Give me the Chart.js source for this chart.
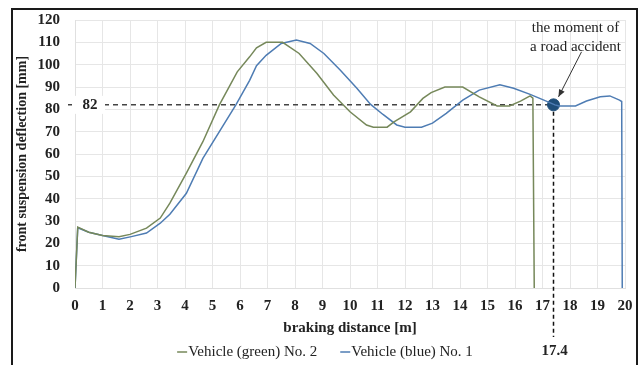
<!DOCTYPE html>
<html>
<head>
<meta charset="utf-8">
<script src="https://cdn.jsdelivr.net/npm/chart.js@4/dist/chart.umd.min.js"></script>
<style>
  body { margin: 0; background: #fff; }
  canvas { display: block; }
</style>
</head>
<body>
<canvas id="myChart" width="639" height="365"></canvas>
<script>
// braking distance [m] / front suspension deflection [mm]
var greenX = [0, 0.1, 0.5, 1.0, 1.6, 2.0, 2.6, 3.1, 3.45, 4.05, 4.65, 5.25, 5.9, 6.35, 6.6, 6.95, 7.55, 8.15, 8.8, 9.4, 10.0, 10.6, 10.85, 11.35, 11.6, 12.2, 12.65, 12.95, 13.45, 14.1, 14.7, 15.35, 15.8, 16.2, 16.55, 16.65, 16.7]
var greenY = [0, 27.3, 25, 23.5, 23, 24, 26.8, 31.3, 38, 51.4, 65.5, 82, 96.8, 103.5, 107.5, 110, 110, 105, 96, 86.4, 78.9, 73, 72, 72, 74.4, 78.9, 84.9, 87.5, 90, 90, 85.6, 81.5, 81.5, 83.7, 86, 85, 0]

var blueX = [0, 0.1, 0.5, 1.0, 1.6, 2.05, 2.6, 3.1, 3.45, 4.05, 4.65, 5.85, 6.35, 6.6, 6.95, 7.5, 8.05, 8.55, 9.05, 9.65, 10.25, 10.75, 11.2, 11.7, 12.0, 12.6, 13.0, 13.5, 14.1, 14.7, 15.45, 15.95, 16.55, 17.05, 17.45, 17.6, 18.2, 18.6, 19.1, 19.45, 19.8, 19.88, 19.9]
var blueY = [0, 27, 25, 23.5, 21.8, 23, 24.6, 29, 33, 42.4, 58, 82, 93, 99.5, 104.2, 109.5, 111, 109.5, 105, 97.5, 89.4, 82.2, 77.7, 73, 72, 72, 73.8, 78.2, 84.1, 88.6, 91, 89.4, 86.7, 84.1, 82, 81.5, 81.5, 83.7, 85.6, 86, 84.1, 83.5, 0]

var seriesLabels = ['Vehicle (green) No. 2', 'Vehicle (blue) No. 1']
var accidentX = [17.4]   // the moment of a road accident
var accidentY = [82]

var xTicks = { min: 0, max: 20, step: 1 }
var yTicks = { min: 0, max: 120, step: 10 }

var GREEN = '#76885a'
var BLUE = '#4e7cb3'
var SERIF = "'Liberation Serif', 'Times New Roman', serif"

function pairs(xs, ys) {
  return xs.map(function (x, i) { return { x: x, y: ys[i] } })
}

// dashed guide lines drawn under the curves
var guides = {
  id: 'guides',
  beforeDraw: function (chart) {
    var ctx = chart.ctx
    ctx.save()
    ctx.fillStyle = '#fff'
    ctx.fillRect(0, 0, chart.width, chart.height)
    ctx.restore()
  },
  beforeDatasetsDraw: function (chart) {
    var ctx = chart.ctx, x = chart.scales.x, y = chart.scales.y
    var px = x.getPixelForValue(accidentX[0]), py = y.getPixelForValue(accidentY[0])
    ctx.save()
    ctx.strokeStyle = '#444'
    ctx.lineWidth = 1.5
    ctx.setLineDash([5, 4])
    ctx.beginPath()
    ctx.moveTo(x.left - 7, py)
    ctx.lineTo(px, py)
    ctx.stroke()
    ctx.strokeStyle = '#111'
    ctx.setLineDash([4, 3])
    ctx.beginPath()
    ctx.moveTo(px, py)
    ctx.lineTo(px, x.bottom - 28)
    ctx.stroke()
    ctx.restore()
  },
  afterDraw: function (chart) {
    var ctx = chart.ctx, x = chart.scales.x, y = chart.scales.y
    var px = x.getPixelForValue(accidentX[0]), py = y.getPixelForValue(accidentY[0])
    ctx.save()
    // "82" label on a white patch
    ctx.fillStyle = '#fff'
    ctx.fillRect(x.left - 3, py - 9, 33, 18)
    ctx.fillStyle = '#222'
    ctx.font = 'bold 15px ' + SERIF
    ctx.textAlign = 'center'
    ctx.textBaseline = 'middle'
    ctx.fillText(String(accidentY[0]), x.left + 15, py)
    ctx.fillText(String(accidentX[0]), px + 1, 351)

    // note + arrow
    ctx.font = '15px ' + SERIF
    ctx.fillText('the moment of', px + 22, py - 77)
    ctx.fillText('a road accident', px + 22, py - 58)
    var sx = px + 28, sy = py - 53, ex = px + 5, ey = py - 8
    ctx.strokeStyle = '#333'
    ctx.fillStyle = '#333'
    ctx.lineWidth = 1
    ctx.beginPath()
    ctx.moveTo(sx, sy)
    ctx.lineTo(ex, ey)
    ctx.stroke()
    var a = Math.atan2(ey - sy, ex - sx)
    ctx.beginPath()
    ctx.moveTo(ex, ey)
    ctx.lineTo(ex - 8 * Math.cos(a - 0.4), ey - 8 * Math.sin(a - 0.4))
    ctx.lineTo(ex - 8 * Math.cos(a + 0.4), ey - 8 * Math.sin(a + 0.4))
    ctx.closePath()
    ctx.fill()

    // legend
    ctx.font = '15px ' + SERIF
    ctx.textAlign = 'left'
    var items = chart.data.datasets.slice(0, 2)
    var widths = items.map(function (d) { return 11 + ctx.measureText(d.label).width })
    var total = widths[0] + 23 + widths[1]
    var lx = 325 - total / 2
    items.forEach(function (d, i) {
      ctx.strokeStyle = d.borderColor
      ctx.lineWidth = 1.5
      ctx.beginPath()
      ctx.moveTo(lx, 352)
      ctx.lineTo(lx + 10, 352)
      ctx.stroke()
      ctx.fillStyle = '#222'
      ctx.fillText(d.label, lx + 11, 352)
      lx += widths[i] + 23
    })

    // outer frame
    ctx.strokeStyle = '#1a1a1a'
    ctx.lineWidth = 2
    ctx.strokeRect(12, 9, 625, 400)
    ctx.restore()
  }
}

Chart.defaults.font.family = SERIF

var ctx = document.getElementById('myChart')
var myChart = new Chart(ctx, {
  type: 'line',
  data: {
    datasets: [
      {
        label: seriesLabels[0],
        data: pairs(greenX, greenY),
        borderColor: GREEN,
        backgroundColor: GREEN,
        borderWidth: 1.5,
        pointRadius: 0,
        tension: 0
      },
      {
        label: seriesLabels[1],
        data: pairs(blueX, blueY),
        borderColor: BLUE,
        backgroundColor: BLUE,
        borderWidth: 1.5,
        pointRadius: 0,
        tension: 0
      },
      {
        label: 'accident',
        data: pairs(accidentX, accidentY),
        showLine: false,
        pointRadius: 6,
        pointBackgroundColor: '#1f4e79',
        pointBorderColor: '#1f4e79',
        clip: false
      }
    ]
  },
  options: {
    responsive: false,
    animation: false,
    layout: { padding: { left: 0, right: 14, top: 20, bottom: 0 } },
    plugins: {
      legend: { display: false },
      tooltip: { enabled: false }
    },
    scales: {
      x: {
        type: 'linear',
        min: xTicks.min,
        max: xTicks.max,
        // fixed box so the plot area lands where the original's does
        afterFit: function (s) { s.height = 77; s.paddingLeft = 0; s.paddingRight = 0 },
        ticks: {
          stepSize: xTicks.step,
          padding: 9,
          color: '#222',
          font: { size: 15, weight: 'bold' }
        },
        grid: { color: '#e6e6e6', drawTicks: false },
        border: { color: '#e0e0e0' },
        title: {
          display: true,
          text: 'braking distance [m]',
          color: '#222',
          font: { size: 15, weight: 'bold' },
          padding: { top: 0, bottom: 28 }
        }
      },
      y: {
        min: yTicks.min,
        max: yTicks.max,
        afterFit: function (s) { s.width = 75; s.paddingTop = 0; s.paddingBottom = 0 },
        ticks: {
          stepSize: yTicks.step,
          padding: 15,
          color: '#222',
          font: { size: 15, weight: 'bold' }
        },
        grid: { color: '#e6e6e6', drawTicks: false },
        border: { color: '#e0e0e0' },
        title: {
          display: true,
          text: 'front suspension deflection [mm]',
          color: '#222',
          font: { size: 14, weight: 'bold' },
          padding: { top: 14, bottom: 0 }
        }
      }
    }
  },
  plugins: [guides]
})
</script>
</body>
</html>
